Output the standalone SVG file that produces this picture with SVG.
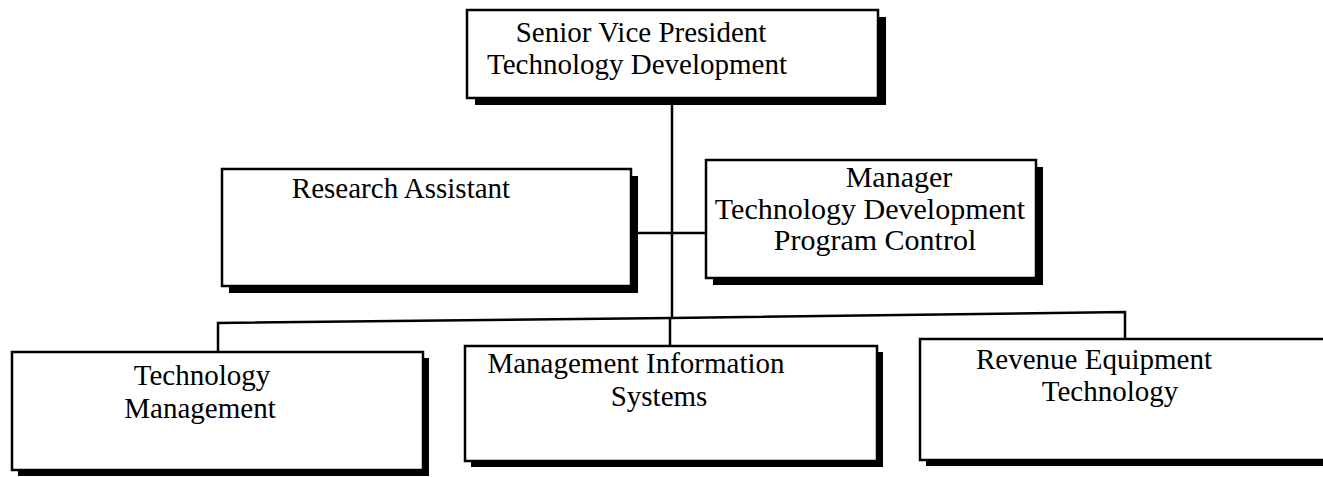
<svg xmlns="http://www.w3.org/2000/svg" width="1323" height="477" viewBox="0 0 1323 477">
<style>
.box{fill:#fff;stroke:#000;stroke-width:2.5}
.sh{fill:#000}
.ln{fill:none;stroke:#000;stroke-width:2.5}
text{font-family:"Liberation Serif","Times New Roman",serif;font-size:29px;fill:#000;text-anchor:middle}
.big{font-size:30px}
</style>
<rect width="1323" height="477" fill="#fff"/>
<g id="connectors">
<line class="ln" x1="672" y1="100" x2="672" y2="318"/>
<line class="ln" x1="633" y1="233" x2="706" y2="233"/>
<polyline class="ln" points="218,352 218,323 672,318 1125,312 1125,338"/>
<line class="ln" x1="670" y1="318" x2="670" y2="346"/>
</g>
<g id="svp">
<rect class="sh" x="475" y="17" width="411" height="88"/>
<rect class="box" x="467" y="10" width="411" height="88"/>
<text x="641" y="42">Senior Vice President</text>
<text x="637" y="74">Technology Development</text>
</g>
<g id="research-assistant">
<rect class="sh" x="229" y="176" width="409" height="117"/>
<rect class="box" x="222" y="169" width="409" height="117"/>
<text x="401" y="198">Research Assistant</text>
</g>
<g id="manager">
<rect class="sh" x="713" y="167" width="330" height="118"/>
<rect class="box" x="706" y="160" width="330" height="118"/>
<text class="big" x="899" y="187">Manager</text>
<text class="big" x="870" y="219">Technology Development</text>
<text class="big" x="875" y="250">Program Control</text>
</g>
<g id="technology-management">
<rect class="sh" x="18" y="358" width="411" height="118"/>
<rect class="box" x="12" y="352" width="411" height="118"/>
<text x="202" y="385">Technology</text>
<text x="200" y="418">Management</text>
</g>
<g id="mis">
<rect class="sh" x="471" y="352" width="412" height="115"/>
<rect class="box" x="465" y="346" width="412" height="115"/>
<text x="636" y="373">Management Information</text>
<text x="659" y="406">Systems</text>
</g>
<g id="revenue-equipment">
<rect class="sh" x="926" y="345" width="420" height="121"/>
<rect class="box" x="920" y="339" width="420" height="121"/>
<text x="1094" y="369">Revenue Equipment</text>
<text x="1110" y="401">Technology</text>
</g>
</svg>
